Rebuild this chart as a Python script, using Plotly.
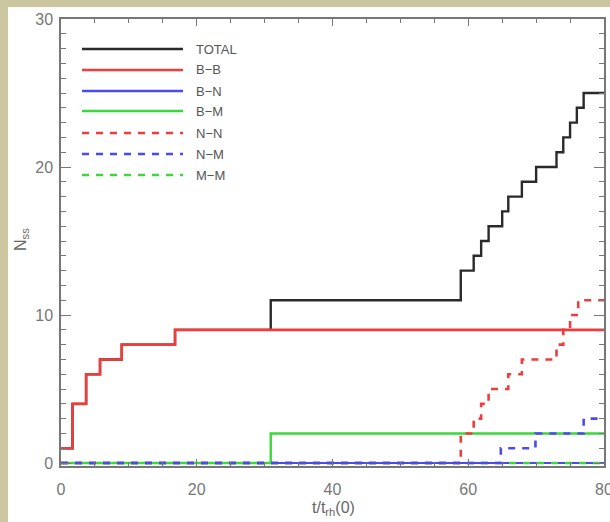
import plotly.graph_objects as go

# ---------------- data ----------------
series_names = ["TOTAL", "B\u2212B", "B\u2212N", "B\u2212M", "N\u2212N", "N\u2212M", "M\u2212M"]

t_total = [0, 1.7, 3.7, 5.75, 8.95, 16.8, 30.9, 58.9, 60.8, 61.9, 63.0, 65.0, 65.9, 67.9, 70.0, 73.0, 74.0, 75.0, 76.0, 77.0, 80.0]
n_total = [1, 4, 6, 7, 8, 9, 11, 13, 14, 15, 16, 17, 18, 19, 20, 21, 22, 23, 24, 25, 25]

t_bb = [0, 1.7, 3.7, 5.75, 8.95, 16.8, 80.0]
n_bb = [1, 4, 6, 7, 8, 9, 9]

t_bn = [0, 80.0]
n_bn = [0, 0]

t_bm = [0, 30.9, 80.0]
n_bm = [0, 2, 2]

t_nn = [0, 58.9, 60.8, 61.9, 63.0, 65.9, 67.9, 73.0, 74.0, 75.0, 76.2, 80.0]
n_nn = [0, 2, 3, 4, 5, 6, 7, 8, 9, 10, 11, 11]

t_nm = [0, 64.8, 69.9, 77.0, 80.0]
n_nm = [0, 1, 2, 3, 3]

t_mm = [0, 80.0]
n_mm = [0, 0]

x_ticks = [0, 20, 40, 60, 80]
y_ticks = [0, 10, 20, 30]

# ---------------- styles ----------------
W, H = 610, 522
ML, MR, MT, MB = 61, 6, 19, 56
PW, PH = W - ML - MR, H - MT - MB

def px(x):
    return (x - ML) / PW

def py(y):
    return (H - MB - y) / PH

colors = ["#2a2a2a", "#f03c3c", "#4a4af5", "#3ad83a", "#f03c3c", "#4a4af5", "#3ad83a"]
dashes = ["solid", "solid", "solid", "solid", "7px,7px", "7px,7px", "7px,7px"]
widths = [2.4, 2.6, 2.0, 2.4, 2.6, 2.6, 2.6]

data = [(t_total, n_total), (t_bn, n_bn), (t_bb, n_bb), (t_bm, n_bm),
        (t_mm, n_mm), (t_nn, n_nn), (t_nm, n_nm)]
order = [0, 2, 1, 3, 6, 4, 5]  # indices into series_names for each entry of data

fig = go.Figure()
for (tx, ny), k in zip(data, order):
    fig.add_trace(go.Scatter(
        x=tx, y=ny, mode="lines", name=series_names[k], line_shape="hv",
        line=dict(color=colors[k], width=widths[k], dash=dashes[k]),
        showlegend=False, hoverinfo="skip"))

shapes = []
annotations = []
# beige frame on the left and top
frame = "#cbc6a0"
shapes.append(dict(type="rect", xref="paper", yref="paper", x0=px(0), x1=px(8), y0=py(H), y1=py(0),
                   fillcolor=frame, line=dict(width=0), layer="below"))
shapes.append(dict(type="rect", xref="paper", yref="paper", x0=px(0), x1=px(W), y0=py(7), y1=py(0),
                   fillcolor=frame, line=dict(width=0), layer="below"))

# custom legend
leg_rows = [49, 70, 91, 111, 133, 154, 175]
for k, yy in enumerate(leg_rows):
    shapes.append(dict(type="line", xref="paper", yref="paper", x0=px(82), x1=px(183),
                       y0=py(yy), y1=py(yy),
                       line=dict(color=colors[k], width=2.4, dash=dashes[k])))
    annotations.append(dict(xref="paper", yref="paper", x=px(194), y=py(yy), text=series_names[k],
                            showarrow=False, xanchor="left", yanchor="middle",
                            font=dict(family="Liberation Sans", size=13, color="#555555")))

# axis titles
annotations.append(dict(xref="paper", yref="paper", x=px(333), y=py(508), text="t/t<sub>rh</sub>(0)",
                        showarrow=False, xanchor="center", yanchor="middle",
                        font=dict(family="Liberation Sans", size=16, color="#666666")))
annotations.append(dict(xref="paper", yref="paper", x=px(21), y=py(240), text="N<sub>ss</sub>",
                        showarrow=False, xanchor="center", yanchor="middle", textangle=-90,
                        font=dict(family="Liberation Sans", size=16, color="#666666")))

axis_common = dict(showgrid=False, zeroline=False, showline=True, linecolor="#777777", linewidth=1.5,
                   mirror="allticks", ticks="inside", tickcolor="#777777", tickwidth=1,
                   ticklabeloverflow="allow", automargin=False,
                   tickfont=dict(family="Liberation Sans", size=16, color="#777777"))

fig.update_layout(
    width=W, height=H,
    margin=dict(l=ML, r=MR, t=MT, b=MB, pad=0, autoexpand=False),
    paper_bgcolor="white", plot_bgcolor="white",
    showlegend=False,
    shapes=shapes, annotations=annotations,
    xaxis=dict(range=[0, 80], tickvals=x_ticks, ticklen=7,
               minor=dict(dtick=5, tick0=0, ticklen=4, ticks="inside", tickcolor="#777777"),
               ticklabelstandoff=8, **axis_common),
    yaxis=dict(range=[-0.2, 30], tickvals=y_ticks, ticklen=10,
               minor=dict(dtick=1, tick0=0, ticklen=5, ticks="inside", tickcolor="#777777"),
               ticklabelstandoff=3, **axis_common),
)

fig.write_html("out.html", config={"displayModeBar": False},
               post_script="document.body.style.margin='0px';document.body.style.overflow='hidden';")
